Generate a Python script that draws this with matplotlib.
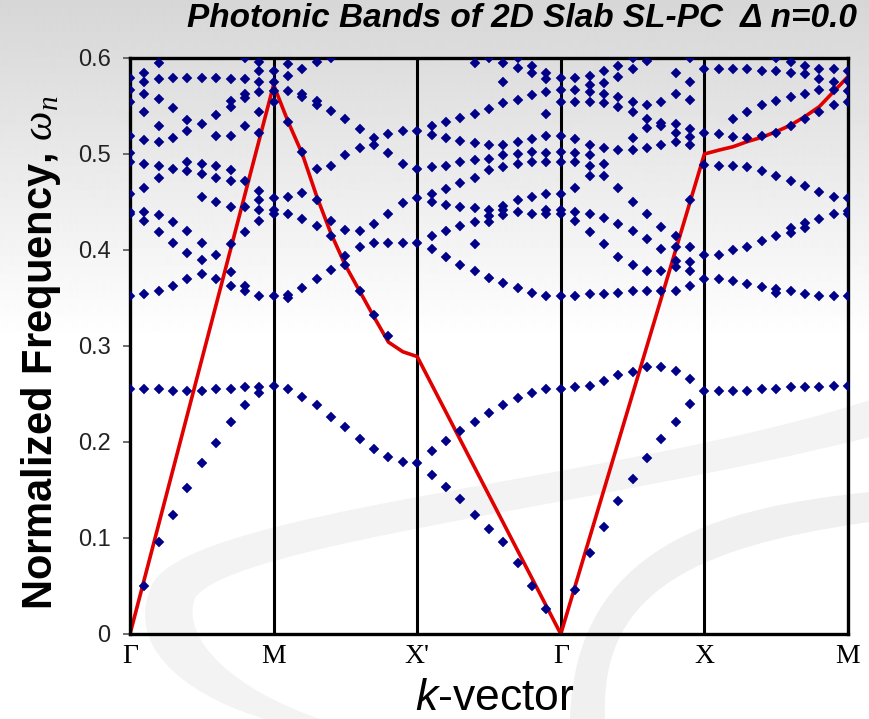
import matplotlib
matplotlib.use("Agg")
import matplotlib.pyplot as plt
import numpy as np
from matplotlib.path import Path
from matplotlib.patches import PathPatch

plt.rcParams["font.family"] = ["Liberation Sans", "DejaVu Sans"]
plt.rcParams["mathtext.fontset"] = "custom"
plt.rcParams["mathtext.rm"] = "Liberation Sans"
plt.rcParams["mathtext.it"] = "Liberation Sans:italic"
plt.rcParams["mathtext.bf"] = "Liberation Sans:bold"
plt.rcParams["mathtext.cal"] = "Liberation Serif:italic"

K_LABELS = ["Γ", "M", "X'", "Γ", "X", "M"]
STEPS = 10  # k-points per segment

# band frequencies, one list per k-point column
# first segment includes its start point, the others start at their 2nd point
gamma_m = [
    [0.5795, 0.567, 0.5545, 0.519, 0.5007, 0.492, 0.458, 0.440, 0.438, 0.352, 0.255],
    [0.584, 0.5753, 0.563, 0.5434, 0.515, 0.4896, 0.465, 0.4396, 0.4306, 0.3538, 0.255, 0.0503],
    [0.595, 0.578, 0.5576, 0.529, 0.513, 0.488, 0.4753, 0.436, 0.4184, 0.3576, 0.255, 0.0955],
    [0.5795, 0.5476, 0.5167, 0.4847, 0.4288, 0.4076, 0.3625, 0.2535, 0.1243],
    [0.5795, 0.535, 0.524, 0.492, 0.4826, 0.420, 0.3965, 0.370, 0.2535, 0.1524],
    [0.5795, 0.5316, 0.490, 0.4788, 0.4556, 0.4076, 0.3896, 0.375, 0.2535, 0.1778],
    [0.5795, 0.5406, 0.519, 0.488, 0.4753, 0.4504, 0.3948, 0.370, 0.255, 0.1993],
    [0.578, 0.5552, 0.5493, 0.519, 0.4833, 0.4718, 0.4452, 0.406, 0.377, 0.3625, 0.255, 0.2212],
    [0.5997, 0.578, 0.562, 0.5587, 0.529, 0.4718, 0.4452, 0.4184, 0.3625, 0.3576, 0.257, 0.2389],
    [0.5955, 0.5865, 0.5753, 0.565, 0.5434, 0.5222, 0.4615, 0.452, 0.4413, 0.4306, 0.352, 0.2576, 0.2507],
    [0.5868, 0.5753, 0.5656, 0.5545, 0.4545, 0.4413, 0.438, 0.352, 0.2587],
]
m_xprime = [
    [0.5938, 0.5813, 0.5656, 0.533, 0.4556, 0.438, 0.353, 0.3496, 0.255],
    [0.5885, 0.563, 0.5597, 0.502, 0.459, 0.4327, 0.3607, 0.247],
    [0.5955, 0.5552, 0.551, 0.4844, 0.452, 0.425, 0.370, 0.2385],
    [0.600, 0.545, 0.488, 0.4306, 0.4146, 0.379, 0.226],
    [0.5365, 0.499, 0.4208, 0.3938, 0.3844, 0.2153],
    [0.5257, 0.506, 0.4198, 0.4035, 0.357, 0.2028],
    [0.5163, 0.509, 0.427, 0.4076, 0.332, 0.1924],
    [0.5205, 0.5007, 0.438, 0.4076, 0.3108, 0.1847],
    [0.524, 0.4896, 0.4486, 0.4076, 0.1795],
    [0.524, 0.4844, 0.4545, 0.4076, 0.1778],
]
xprime_gamma = [
    [0.529, 0.5198, 0.486, 0.4583, 0.4504, 0.4146, 0.4007, 0.1903, 0.1656],
    [0.5337, 0.517, 0.488, 0.4632, 0.4469, 0.420, 0.393, 0.201, 0.1528],
    [0.538, 0.5135, 0.4917, 0.470, 0.4452, 0.4253, 0.3844, 0.2118, 0.1403],
    [0.595, 0.5417, 0.511, 0.4938, 0.4753, 0.4434, 0.4288, 0.406, 0.3785, 0.2212, 0.1243],
    [0.600, 0.547, 0.509, 0.4951, 0.4833, 0.4417, 0.4354, 0.4292, 0.3712, 0.2302, 0.1094],
    [0.595, 0.5753, 0.5528, 0.509, 0.499, 0.486, 0.4458, 0.4417, 0.4365, 0.366, 0.2385, 0.0955],
    [0.600, 0.590, 0.5563, 0.513, 0.500, 0.490, 0.452, 0.440, 0.3607, 0.2455, 0.0743],
    [0.5917, 0.584, 0.5615, 0.5153, 0.5024, 0.492, 0.4556, 0.438, 0.3556, 0.2514, 0.0503],
    [0.5847, 0.578, 0.565, 0.5417, 0.519, 0.5014, 0.492, 0.458, 0.4417, 0.438, 0.352, 0.2549, 0.0257],
    [0.5795, 0.567, 0.5545, 0.519, 0.5024, 0.492, 0.458, 0.4417, 0.438, 0.352, 0.2549],
]
gamma_x = [
    [0.5788, 0.567, 0.5545, 0.5153, 0.5014, 0.4917, 0.465, 0.440, 0.4306, 0.352, 0.257, 0.0458],
    [0.5816, 0.5719, 0.565, 0.5545, 0.509, 0.499, 0.488, 0.477, 0.438, 0.4184, 0.3538, 0.2583, 0.0847],
    [0.5868, 0.5743, 0.563, 0.5528, 0.506, 0.490, 0.477, 0.433, 0.406, 0.3538, 0.2639, 0.1111],
    [0.592, 0.5799, 0.5597, 0.5493, 0.504, 0.465, 0.427, 0.393, 0.3556, 0.2698, 0.1382],
    [0.5997, 0.5885, 0.5545, 0.5434, 0.517, 0.504, 0.4504, 0.4198, 0.3844, 0.357, 0.2726, 0.1615],
    [0.5972, 0.551, 0.5365, 0.5274, 0.506, 0.438, 0.411, 0.3785, 0.357, 0.2778, 0.183],
    [0.5545, 0.5326, 0.529, 0.509, 0.4236, 0.4007, 0.3785, 0.357, 0.2785, 0.2028],
    [0.5847, 0.563, 0.5313, 0.5215, 0.513, 0.4146, 0.4028, 0.3885, 0.3826, 0.357, 0.2743, 0.2212],
    [0.5997, 0.5753, 0.5563, 0.5257, 0.5174, 0.509, 0.452, 0.4028, 0.3878, 0.3785, 0.3625, 0.2653, 0.2396],
    [0.5885, 0.5222, 0.4885, 0.3948, 0.3698, 0.2535],
]
x_m = [
    [0.5885, 0.5205, 0.488, 0.3948, 0.3698, 0.2535],
    [0.5885, 0.5365, 0.518, 0.488, 0.400, 0.368, 0.253],
    [0.5885, 0.5434, 0.517, 0.486, 0.4035, 0.3642, 0.253],
    [0.5868, 0.551, 0.519, 0.4826, 0.4094, 0.3618, 0.255],
    [0.600, 0.5868, 0.5552, 0.5222, 0.477, 0.4146, 0.359, 0.355, 0.255],
    [0.5955, 0.5847, 0.5597, 0.529, 0.4718, 0.4226, 0.418, 0.3576, 0.257],
    [0.5917, 0.5833, 0.563, 0.5365, 0.467, 0.4278, 0.4233, 0.3538, 0.257],
    [0.5885, 0.578, 0.567, 0.5434, 0.4608, 0.4323, 0.352, 0.257],
    [0.5885, 0.5747, 0.567, 0.551, 0.4556, 0.438, 0.352, 0.2587],
    [0.5868, 0.576, 0.5656, 0.5545, 0.4545, 0.4406, 0.438, 0.352, 0.2587],
]

# light line (red)
light_k = [0, 10, 11, 12, 13, 14, 15, 16, 17, 18, 19, 20, 30, 40,
           41, 42, 43, 44, 45, 46, 47, 48, 49, 50]
light_w = [0.0, 0.572, 0.534, 0.500, 0.456, 0.417, 0.384, 0.357, 0.330, 0.304, 0.294, 0.289,
           0.0, 0.500, 0.504, 0.5076, 0.513, 0.5174, 0.5233, 0.530, 0.539, 0.5493, 0.565, 0.5806]

W, H = 870, 719
fig = plt.figure(figsize=(W / 100, H / 100), dpi=100)

# slide background: grey gradient at the top and pale swooshes
bg = fig.add_axes([0, 0, 1, 1], zorder=-10)
bg.set_xlim(0, W)
bg.set_ylim(H, 0)
bg.axis("off")
rows = np.arange(H)
shade = np.clip(0.84 + 0.16 * rows / 340.0, 0, 1)
bg.imshow(np.repeat(shade[:, None], 2, axis=1), cmap="gray", vmin=0, vmax=1,
          aspect="auto", extent=[0, W, H, 0], interpolation="bilinear")

C4, L2 = Path.CURVE4, Path.LINETO
swoosh1 = Path(
    [(870, 400), (620, 482), (170, 510), (150, 590),
     (125, 655), (200, 700), (265, 719), (320, 719),
     (235, 690), (180, 640), (195, 598),
     (230, 545), (600, 505), (870, 437), (870, 400)],
    [Path.MOVETO, C4, C4, C4, C4, C4, C4, L2, C4, C4, C4, C4, C4, C4, Path.CLOSEPOLY])
swoosh2 = Path(
    [(870, 492), (720, 507), (575, 545), (570, 719), (605, 719),
     (600, 600), (680, 548), (870, 522), (870, 492)],
    [Path.MOVETO, C4, C4, C4, L2, C4, C4, C4, Path.CLOSEPOLY])
bg.add_patch(PathPatch(swoosh1, facecolor="#f3f3f3", edgecolor="none"))
bg.add_patch(PathPatch(swoosh2, facecolor="#f0f0f0", edgecolor="none"))

ax = fig.add_axes([130 / W, 1 - 634 / H, 718 / W, 576 / H])
ax.set_facecolor("none")

segments = [gamma_m, m_xprime, xprime_gamma, gamma_x, x_m]
ks, ws = [], []
for s, seg in enumerate(segments):
    first = 0 if s == 0 else 1
    for j, col in enumerate(seg):
        ks += [s * STEPS + first + j] * len(col)
        ws += col

for xv in range(STEPS, 5 * STEPS, STEPS):
    ax.axvline(xv, color="black", lw=2.2, zorder=1)
ax.plot(light_k, light_w, color="#e00000", lw=2.6, zorder=2)
ax.plot(ks, ws, "D", color="#000088", ms=4.8, mew=0.3, mec="#000088", zorder=3)

ax.set_xlim(0, 5 * STEPS)
ax.set_ylim(0, 0.6)
ax.set_xticks(range(0, 5 * STEPS + 1, STEPS))
ax.set_xticklabels(K_LABELS, fontfamily="Liberation Serif", fontsize=20)
ax.set_yticks([0, 0.1, 0.2, 0.3, 0.4, 0.5, 0.6])
ax.set_yticklabels(["0", "0.1", "0.2", "0.3", "0.4", "0.5", "0.6"], fontsize=17, color="#222222")
ax.tick_params(axis="x", length=0, pad=7)
ax.tick_params(axis="y", length=5, width=1.2, color="#555555", pad=9)
for sp in ax.spines.values():
    sp.set_linewidth(2.4)
    sp.set_color("black")

fig.text(857 / W, 1 - 27 / H, "Photonic Bands of 2D Slab SL-PC  Δ n=0.0",
         ha="right", va="baseline", fontsize=24, fontweight="bold", fontstyle="italic")
fig.text(0.047, 0.51, r"Normalized Frequency, $\mathcal{\omega}_{\mathcal{n}}$",
         rotation=90, ha="center", va="center", fontsize=30, fontweight="bold")
fig.text(0.569, 1 - 710 / H, r"$k$-vector", ha="center", va="baseline", fontsize=32)

fig.savefig("out.png", dpi=100)
